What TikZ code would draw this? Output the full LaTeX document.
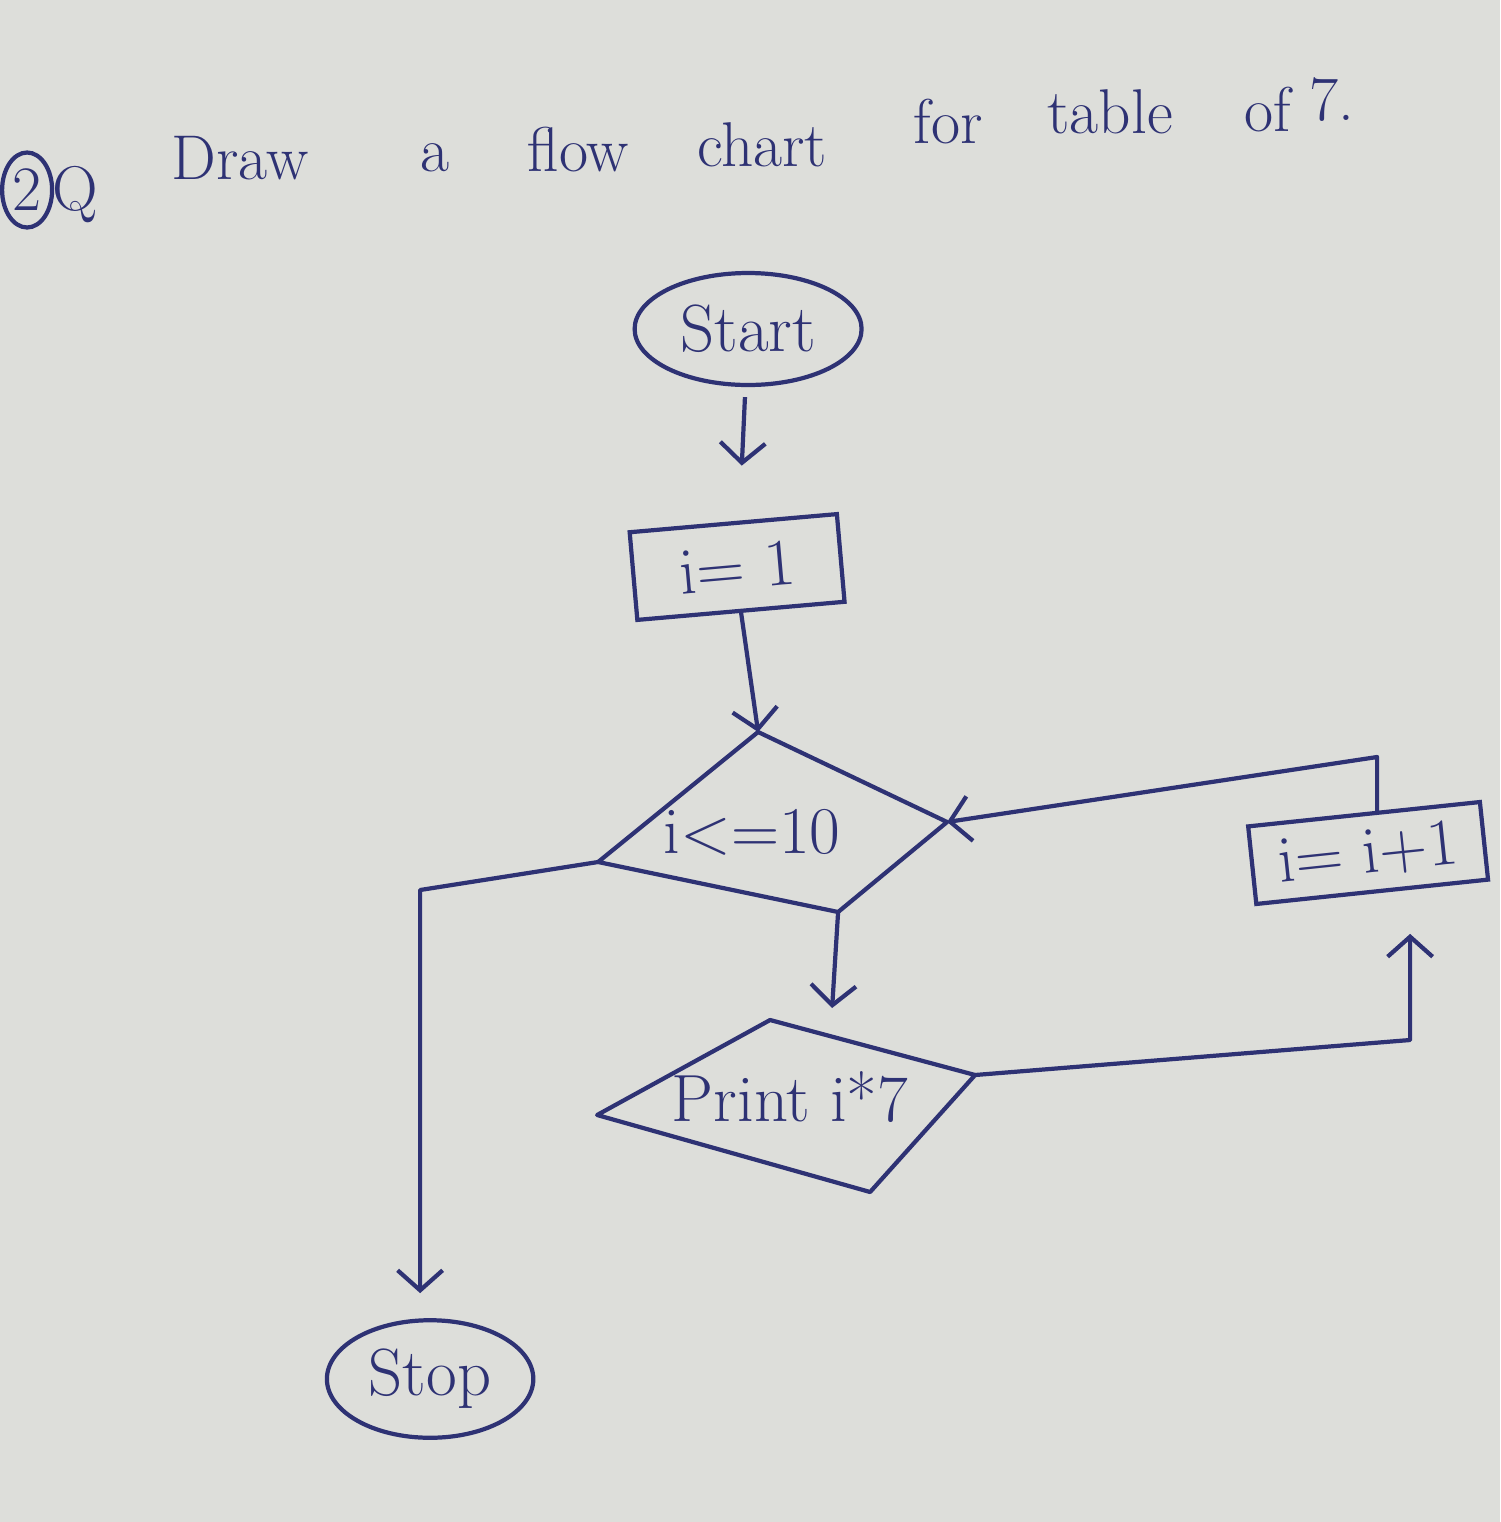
\documentclass[tikz,border=0pt]{standalone}
\usepackage{tikz}
\usetikzlibrary{arrows.meta,calc,positioning,shapes.geometric}
\definecolor{paper}{RGB}{221,222,218}
\definecolor{ink}{RGB}{46,50,116}
\tikzset{
  hand/.style={font=\fontsize{19}{23}\selectfont, text=ink},
  titletext/.style={font=\fontsize{18}{22}\selectfont, text=ink},
  termnode/.style={draw=ink, ellipse, line width=1.2pt, hand},
  boxnode/.style={draw=ink, rectangle, line width=1.2pt, hand},
  outline/.style={draw=ink, line width=1.2pt, line join=round},
  flow/.style={draw=ink, line width=1.2pt, line join=round, -{Straight Barb[length=2mm,width=4.5mm]}}
}
\begin{document}
\begin{tikzpicture}[x=0.1mm, y=-0.1mm]
      % paper
      \fill[paper] (0,0) rectangle (1500,1522);
      % question
      \node[draw=ink, ellipse, line width=1.2pt, titletext, minimum width=0.5cm, minimum height=0.75cm, inner sep=0pt] (qnum) at (27,190) {2};
      \node[titletext] (qmark) at (75,195) {Q};
      \foreach \word/\px/\py in {Draw/240/158, a/435/158, flow/578/150, chart/762/145, for/948/122, table/1110/112, of/1268/110, 7./1332/100}
        \node[titletext] at (\px,\py) {\word};
      % terminals and boxes
      \node[termnode, minimum width=2.27cm, minimum height=1.12cm] (start) at (748,329) {Start};
      \node[boxnode, rotate=5, minimum width=2.08cm, minimum height=0.88cm] (init) at (737,567) {i= 1};
      \node[boxnode, rotate=6, minimum width=2.33cm, minimum height=0.78cm] (inc) at (1368,853) {i= i+1};
      \node[termnode, minimum width=1.95cm, minimum height=1.08cm] (stop) at (430,1379) {Stop};
      % decision
      \coordinate (d-t) at (758,732);
      \coordinate (d-r) at (947,822);
      \coordinate (d-b) at (838,912);
      \coordinate (d-l) at (598,862);
      \draw[outline] (d-t) -- (d-r) -- (d-b) -- (d-l) -- cycle;
      \node[hand] (cond) at (752,832) {i<=10};
      % output
      \coordinate (p-t) at (770,1020);
      \coordinate (p-r) at (975,1075);
      \coordinate (p-b) at (870,1192);
      \coordinate (p-l) at (597,1115);
      \draw[outline] (p-t) -- (p-r) -- (p-b) -- (p-l) -- cycle;
      \node[hand] (print) at (790,1097) {Print i*7};
      % bends
      \coordinate (c1) at (1410,1040);
      \coordinate (c2) at (1377,757);
      \coordinate (c3) at (420,890);
      \coordinate (p-in) at (832,1008);
      % flow lines
      \draw[flow, shorten <=1mm, shorten >=5.5mm] (start) -- (init);
      \draw[flow] (init.south) -- (d-t);
      \draw[flow] (d-b) -- (p-in);
      \draw[flow, shorten >=4mm] (p-r) -- (c1) -- (c1 |- inc.south);
      \draw[flow] (c2 |- inc.north) -- (c2) -- (d-r);
      \draw[flow, shorten >=2.5mm] (d-l) -- (c3) -- (c3 |- stop.north);
\end{tikzpicture}
\end{document}
